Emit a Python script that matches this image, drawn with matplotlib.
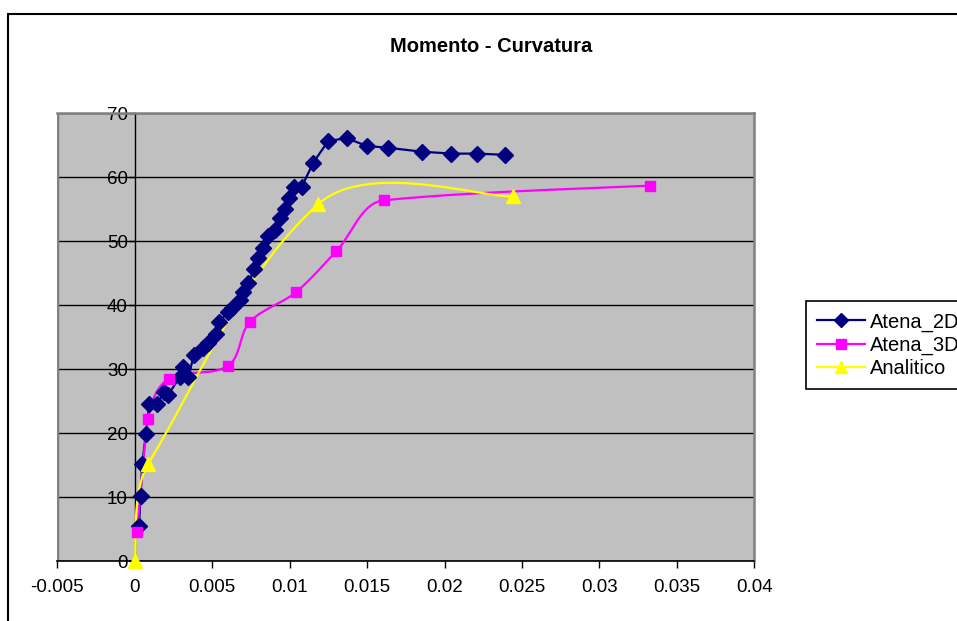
import numpy as np
import matplotlib
matplotlib.use('Agg')
import matplotlib.pyplot as plt
from matplotlib.lines import Line2D
from matplotlib.patches import Rectangle

plt.rcParams['font.family'] = ['Liberation Sans', 'DejaVu Sans']

# curvatura / momento
atena2d_x = [0.00027, 0.00038, 0.00048, 0.00072, 0.00094, 0.00145, 0.0019, 0.00216,
             0.00292, 0.00309, 0.00346, 0.00382, 0.00443, 0.00475, 0.00525, 0.00546,
             0.00604, 0.00626, 0.0068, 0.00701, 0.00733, 0.00772, 0.00794, 0.0083,
             0.00862, 0.00906, 0.00938, 0.0097, 0.00998, 0.01028, 0.01078, 0.01153,
             0.0125, 0.01369, 0.01498, 0.01638, 0.01853, 0.02043, 0.02209, 0.02392]
atena2d_y = [5.4, 10.2, 15.1, 19.9, 24.5, 24.5, 26.5, 26.0,
             28.8, 30.4, 28.8, 32.2, 33.3, 34.1, 35.5, 37.4,
             39.0, 39.5, 40.8, 42.1, 43.5, 45.6, 47.3, 49.0,
             50.8, 51.8, 53.6, 55.1, 56.8, 58.4, 58.5, 62.3,
             65.7, 66.1, 64.9, 64.6, 64.0, 63.7, 63.7, 63.5]

atena3d_x = [0.00016, 0.00087, 0.00221, 0.006, 0.00744, 0.01039, 0.013, 0.0161, 0.03328]
atena3d_y = [4.6, 22.2, 28.5, 30.5, 37.4, 42.0, 48.4, 56.4, 58.7]

analitico_x = [0.0, 0.00087, 0.01185, 0.02445]
analitico_y = [0.0, 15.2, 55.8, 57.0]


def smooth(ax, xs, ys, n=40):
    # bezier smoothing done in screen space, like the spreadsheet "smoothed line"
    p = ax.transData.transform(np.column_stack([xs, ys]))
    m = len(p)
    c_out = np.zeros_like(p)
    c_in = np.zeros_like(p)
    for i in range(m):
        a = p[i] - p[i - 1] if i > 0 else np.zeros(2)
        b = p[i + 1] - p[i] if i < m - 1 else np.zeros(2)
        d1 = np.hypot(*a)
        d2 = np.hypot(*b)
        if i == 0:
            c_out[i] = p[i] + b / 6
            continue
        if i == m - 1:
            c_in[i] = p[i] - a / 6
            continue
        t = d1 * a + d2 * b
        u = t / np.hypot(*t)
        c_out[i] = p[i] + u * d2 / 3
        c_in[i] = p[i] - u * d1 / 3
    s = np.linspace(0, 1, n)[:, None]
    curve = [p[:1]]
    for i in range(m - 1):
        q = ((1 - s) ** 3 * p[i] + 3 * (1 - s) ** 2 * s * c_out[i]
             + 3 * (1 - s) * s ** 2 * c_in[i + 1] + s ** 3 * p[i + 1])
        curve.append(q[1:])
    curve = np.vstack(curve)
    d = ax.transData.inverted().transform(curve)
    return d[:, 0], d[:, 1]


W, H = 957, 621
fig = plt.figure(figsize=(W / 100, H / 100), dpi=100)
fig.patch.set_facecolor('white')
ax = fig.add_axes([57.3 / W, 1 - 561 / H, (754.3 - 57.3) / W, (561 - 113.3) / H])
ax.set_xlim(-0.005, 0.04)
ax.set_ylim(0, 70)
ax.set_facecolor('#c0c0c0')

ax.set_xticks(np.arange(-0.005, 0.0401, 0.005))
ax.set_xticklabels(['-0.005', '0', '0.005', '0.01', '0.015', '0.02', '0.025', '0.03', '0.035', '0.04'])
ax.set_yticks(range(0, 71, 10))
ax.tick_params(labelsize=13.5, length=5, width=1, direction='out', colors='black')
ax.tick_params(axis='x', pad=8)
ax.tick_params(axis='y', length=4, pad=1)

ax.yaxis.grid(True, color='black', lw=1)
ax.set_axisbelow(True)

ax.spines['left'].set_position(('data', 0))
ax.spines['left'].set_color('black')
ax.spines['left'].set_linewidth(1)
ax.spines['bottom'].set_color('black')
ax.spines['bottom'].set_linewidth(1.2)
for s in ['top', 'right']:
    ax.spines[s].set_color('#808080')
    ax.spines[s].set_linewidth(1.8)
ax.axvline(-0.005, color='#808080', lw=2.5, zorder=1)

navy = '#000080'
pink = '#ff00ff'
yel = '#ffff00'

ax.plot(atena2d_x, atena2d_y, color=navy, lw=1.6, zorder=3)
sx, sy = smooth(ax, atena3d_x, atena3d_y)
ax.plot(sx, sy, color=pink, lw=1.6, zorder=3)
sx, sy = smooth(ax, analitico_x, analitico_y)
ax.plot(sx, sy, color=yel, lw=1.6, zorder=3, clip_on=False)

ax.plot(atena2d_x, atena2d_y, 'D', color=navy, ms=8, zorder=4, clip_on=False)
ax.plot(atena3d_x, atena3d_y, 's', color=pink, ms=7.5, zorder=4, clip_on=False)
ax.plot(analitico_x, analitico_y, '^', color=yel, ms=9.5, zorder=4, clip_on=False)

fig.text(491 / W, 1 - 46 / H, 'Momento - Curvatura', ha='center', va='center',
         fontsize=14.5, fontweight='bold')

handles = [Line2D([], [], color=navy, lw=1.6, marker='D', ms=7.5),
           Line2D([], [], color=pink, lw=1.6, marker='s', ms=7.5),
           Line2D([], [], color=yel, lw=1.6, marker='^', ms=9)]
leg = fig.legend(handles, ['Atena_2D', 'Atena_3D', 'Analitico'],
                 loc='lower left', bbox_to_anchor=(806 / W, 1 - 389 / H),
                 frameon=True, fancybox=False, edgecolor='black', framealpha=1,
                 fontsize=14.5, handlelength=2.4, handletextpad=0.25, borderpad=0.55,
                 labelspacing=0.2, borderaxespad=0)
leg.get_frame().set_linewidth(1.2)

fig.patches.append(Rectangle((8 / W, -0.1), 1.2, 1.1 - 14 / H, transform=fig.transFigure,
                             fill=False, ec='black', lw=1.5))

fig.savefig('out.png', dpi=100)
